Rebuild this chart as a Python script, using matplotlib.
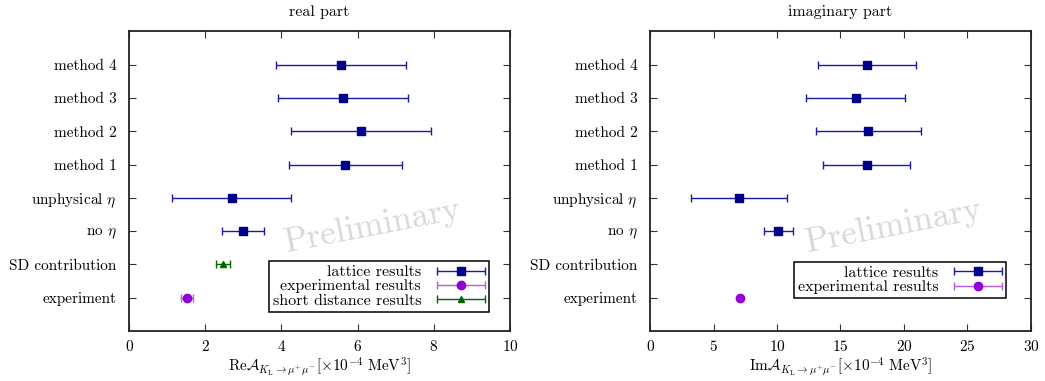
import numpy as np
import matplotlib
matplotlib.use('Agg')
import matplotlib.pyplot as plt
from matplotlib.container import ErrorbarContainer
from matplotlib.legend_handler import HandlerErrorbar

plt.rcParams['font.family'] = ['cmr10', 'DejaVu Serif']
plt.rcParams['mathtext.fontset'] = 'cm'
plt.rcParams['axes.formatter.use_mathtext'] = True
plt.rcParams['font.size'] = 11

# 分类标签（自上而下）
categories = ['method 4', 'method 3', 'method 2', 'method 1',
              r'unphysical $\eta$', r'no $\eta$', 'SD contribution', 'experiment']

# 实部
re_lattice_val = [5.57, 5.61, 6.10, 5.68, 2.69, 2.99]
re_lattice_err = [1.70, 1.71, 1.84, 1.49, 1.55, 0.55]
re_sd_val = 2.46
re_sd_err = 0.18
re_exp_val = 1.52
re_exp_err = 0.15

# 虚部
im_lattice_val = [17.06, 16.22, 17.19, 17.08, 6.99, 10.10]
im_lattice_err = [3.86, 3.90, 4.12, 3.43, 3.77, 1.16]
im_exp_val = 7.11
im_exp_err = 0.05

NAVY = '#00008b'
NAVY_BAR = '#1a1aa0'
VIOLET = '#9400d3'
VIOLET_BAR = '#b45ce6'
GREEN = '#006400'

ypos = np.arange(len(categories), 0, -1)  # 8 .. 1


def style_axes(ax, xmax, xticks, xlabel, title):
    ax.set_xlim(0, xmax)
    ax.set_ylim(0, 9)
    ax.set_xticks(xticks)
    ax.set_yticks(ypos)
    ax.set_yticklabels(categories)
    ax.tick_params(direction='in', top=True, right=True, length=5, width=0.8,
                   color='#333333', pad=9)
    ax.tick_params(axis='x', pad=6)
    for sp in ax.spines.values():
        sp.set_linewidth(1.3)
        sp.set_color('#222222')
    ax.set_xlabel(xlabel, labelpad=1)
    ax.set_title(title, pad=11, fontsize=11.5)
    ax.text(0.64, 0.35, 'Preliminary', transform=ax.transAxes, rotation=11,
            fontsize=25, color='#d8d8d8', ha='center', va='center', zorder=0)


def draw_lattice(ax, vals, errs):
    return ax.errorbar(vals, ypos[:len(vals)], xerr=errs, fmt='s', color=NAVY,
                       ecolor=NAVY_BAR, elinewidth=1.0, capsize=3, capthick=1.0,
                       markersize=6, label='lattice results', zorder=3)


def add_legend(ax, handles, anchor):
    leg = ax.legend(handles=handles, loc='lower right', bbox_to_anchor=anchor,
                    markerfirst=False, fancybox=False, framealpha=1, edgecolor='black',
                    borderpad=0.25, labelspacing=0.0, handlelength=3.0,
                    handletextpad=1.0, borderaxespad=0, fontsize=11.5,
                    handler_map={ErrorbarContainer: HandlerErrorbar(xerr_size=1.5)})
    leg.get_frame().set_linewidth(1.1)
    return leg


fig, (ax1, ax2) = plt.subplots(1, 2, figsize=(10.45, 3.81), dpi=100)
fig.subplots_adjust(left=0.1235, right=0.9865, top=0.918, bottom=0.131, wspace=0.368)

# 实部
h1 = draw_lattice(ax1, re_lattice_val, re_lattice_err)
h2 = ax1.errorbar(re_exp_val, ypos[7], xerr=re_exp_err, fmt='o', color=VIOLET,
                  ecolor=VIOLET_BAR, elinewidth=1.0, capsize=3, capthick=1.0,
                  markersize=6, label='experimental results', zorder=3)
h3 = ax1.errorbar(re_sd_val, ypos[6], xerr=re_sd_err, fmt='^', color=GREEN,
                  ecolor=GREEN, elinewidth=1.0, capsize=3, capthick=1.0,
                  markersize=5, label='short distance results', zorder=3)
style_axes(ax1, 10, [0, 2, 4, 6, 8, 10],
           r'Re$\mathcal{A}_{K_{\mathrm{L}}\to\mu^{+}\mu^{-}}[\times10^{-4}\ \mathrm{MeV}^3]$',
           'real part')
add_legend(ax1, [h1, h2, h3], (0.945, 0.065))

# 虚部
g1 = draw_lattice(ax2, im_lattice_val, im_lattice_err)
g2 = ax2.errorbar(im_exp_val, ypos[7], xerr=im_exp_err, fmt='o', color=VIOLET,
                  ecolor=VIOLET_BAR, elinewidth=1.0, capsize=0, markersize=6,
                  label='experimental results', zorder=3)
style_axes(ax2, 30, [0, 5, 10, 15, 20, 25, 30],
           r'Im$\mathcal{A}_{K_{\mathrm{L}}\to\mu^{+}\mu^{-}}[\times10^{-4}\ \mathrm{MeV}^3]$',
           'imaginary part')
# 图例中实验点也画误差棒
g2_leg = ax2.errorbar([np.nan], [np.nan], xerr=[1.0], fmt='o', color=VIOLET,
                      ecolor=VIOLET_BAR, elinewidth=1.0, capsize=3, capthick=1.0,
                      markersize=6, label='experimental results')
add_legend(ax2, [g1, g2_leg], (0.935, 0.11))

fig.savefig('out.png', dpi=100)
